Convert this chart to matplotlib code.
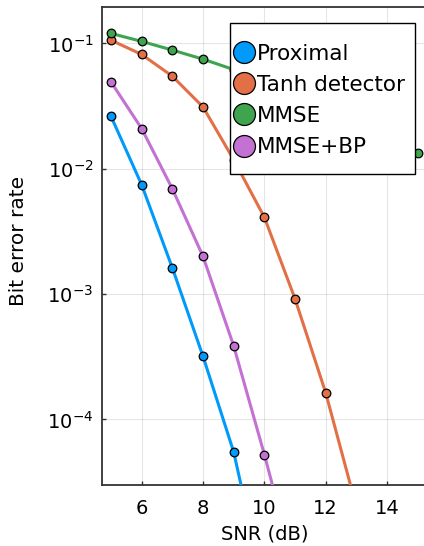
import numpy as np
import matplotlib
matplotlib.use("Agg")
import matplotlib.pyplot as plt
from matplotlib.patches import Rectangle

# SNR values (dB) and bit error rates
snr = [5, 6, 7, 8, 9, 10, 11, 12, 13, 14, 15]

ber_proximal = [0.0262, 0.00745, 0.00162, 3.19e-4, 5.5e-5, 4.4e-6]
ber_tanh = [0.106, 0.0816, 0.0547, 0.0311, 0.0118, 0.0041, 9.16e-4, 1.63e-4, 2.0e-5]
ber_mmse = [0.120, 0.1037, 0.0884, 0.0748, 0.0618, 0.050, 0.040, 0.031, 0.024, 0.018, 0.0133]
ber_mmse_bp = [0.0493, 0.0209, 0.00692, 0.0020, 3.86e-4, 5.25e-5, 6.3e-6]

labels = ["Proximal", "Tanh detector", "MMSE", "MMSE+BP"]
colors = ["#009AFA", "#E36F47", "#3EA44E", "#C371D2"]
series = [ber_proximal, ber_tanh, ber_mmse, ber_mmse_bp]

fig = plt.figure(figsize=(4.24, 5.46), dpi=100)
ax = fig.add_axes([0.240, 0.1117, 0.767, 0.876])

for lab, col, ys in zip(labels, colors, series):
    ax.plot(snr[:len(ys)], ys, color=col, lw=2.2, marker="o", ms=6.2,
            mec="black", mew=0.9, label=lab, zorder=3)

ax.set_yscale("log")
ax.set_xlim(4.7, 15.3)
ax.set_ylim(3e-5, 0.196)
ax.set_xticks([6, 8, 10, 12, 14])
ax.set_yticks([1e-4, 1e-3, 1e-2, 1e-1])
ax.yaxis.set_minor_locator(matplotlib.ticker.NullLocator())

ax.grid(True, color="black", alpha=0.1, lw=0.8)
ax.set_axisbelow(True)
for side in ["left", "bottom", "top"]:
    ax.spines[side].set_color("#333333")
    ax.spines[side].set_linewidth(1.3)
ax.spines["right"].set_visible(False)
ax.tick_params(direction="in", length=3, width=1, labelsize=14, color="#333333", pad=6)
ax.tick_params(axis="x", pad=10)

ax.set_xlabel("SNR (dB)", fontsize=14, labelpad=5)
ax.set_ylabel("Bit error rate", fontsize=14.5)
ax.yaxis.set_label_coords(-0.228, 0.51)

# legend box drawn by hand (more room above/below than at the sides)
frame = Rectangle((0.5425, 0.6808), 0.4363, 0.2766, transform=fig.transFigure,
                  facecolor="white", edgecolor="black", lw=1.0, zorder=4, clip_on=False)
ax.add_patch(frame)

leg = ax.legend(loc="upper left", bbox_to_anchor=(0.5495, 0.9203),
                bbox_transform=fig.transFigure, fontsize=15.5, frameon=False,
                markerscale=2.55, handlelength=1.0, handletextpad=0.12,
                labelspacing=0.52, borderpad=0, borderaxespad=0)
leg.set_zorder(5)
for h in leg.legend_handles:
    h.set_linestyle("none")

fig.savefig("out.png", dpi=100)
